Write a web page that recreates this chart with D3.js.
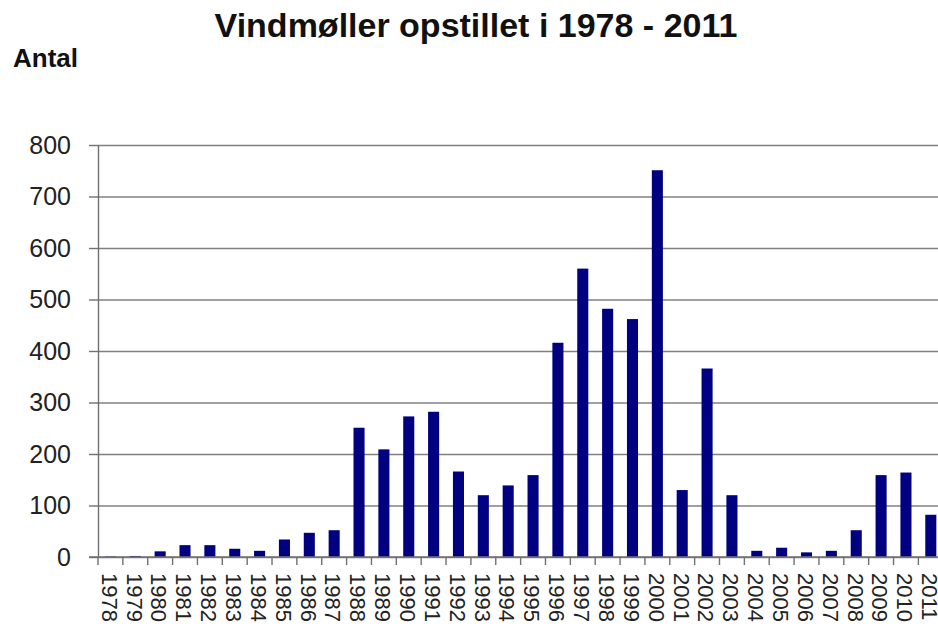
<!DOCTYPE html>
<html>
<head>
<meta charset="utf-8">
<script src="https://cdn.jsdelivr.net/npm/d3@7"></script>
<style>
  body { margin: 0; background: #fff; }
  svg { display: block; font-family: "Liberation Sans", Arial, sans-serif; }
</style>
</head>
<body>
<svg></svg>
<script>
const years = ["1978","1979","1980","1981","1982","1983","1984","1985","1986","1987",
               "1988","1989","1990","1991","1992","1993","1994","1995","1996","1997",
               "1998","1999","2000","2001","2002","2003","2004","2005","2006","2007",
               "2008","2009","2010","2011"];
const antal = [1, 2, 11, 23, 23, 16, 12, 34, 47, 52,
               251, 209, 273, 282, 166, 120, 139, 159, 416, 560,
               482, 462, 751, 130, 366, 120, 12, 18, 9, 12,
               52, 159, 164, 82];
const yTicks = [0, 100, 200, 300, 400, 500, 600, 700, 800];
const title = "Vindmøller opstillet i 1978 - 2011";
const yTitle = "Antal";

const data = years.map((d, i) => ({ year: d, value: antal[i] }));

const width = 938, height = 627;
const margin = { top: 145, left: 98, bottom: 557 };

const svg = d3.select("svg")
    .attr("width", width)
    .attr("height", height);

// the plot runs a little past the right edge, like the original
const xStep = d3.scaleBand()
    .domain(years)
    .range([margin.left, margin.left + years.length * 24.86])
    .padding(0);

const x = d3.scaleBand()
    .domain(years)
    .range(xStep.range())
    .paddingInner(0.555)
    .paddingOuter(0.2775);

const y = d3.scaleLinear()
    .domain([0, 800])
    .range([margin.bottom, margin.top]);

// gridlines
svg.append("g")
    .attr("class", "grid")
    .attr("transform", `translate(${margin.left},0)`)
    .call(d3.axisLeft(y).tickValues(yTicks).tickSize(-(width - margin.left)).tickFormat(""))
    .call(g => g.select(".domain").remove())
    .call(g => g.selectAll("line").attr("stroke", "#808080").attr("stroke-width", 1.4));

// y axis
svg.append("g")
    .attr("transform", `translate(${margin.left},0)`)
    .call(d3.axisLeft(y).tickValues(yTicks).tickSize(9).tickSizeOuter(0).tickPadding(18))
    .call(g => g.select(".domain").attr("stroke", "#707070").attr("stroke-width", 1.4))
    .call(g => g.selectAll("line").attr("stroke", "#707070").attr("stroke-width", 1.4))
    .call(g => g.selectAll("text")
        .style("font-size", "25px")
        .attr("fill", "#222"));

// bars
svg.selectAll(".bar")
    .data(data)
    .enter()
    .append("rect")
    .attr("class", "bar")
    .attr("x", d => x(d.year))
    .attr("y", d => y(d.value))
    .attr("width", x.bandwidth())
    .attr("height", d => y(0) - y(d.value))
    .attr("fill", "#000080");

// x axis line and category ticks at band boundaries
const xAxis = svg.append("g").attr("class", "x-axis");

xAxis.append("line")
    .attr("x1", margin.left - 9)
    .attr("x2", width)
    .attr("y1", y(0))
    .attr("y2", y(0))
    .attr("stroke", "#707070")
    .attr("stroke-width", 1.4);

xAxis.selectAll(".xtick")
    .data(years)
    .enter()
    .append("line")
    .attr("class", "xtick")
    .attr("x1", d => xStep(d))
    .attr("x2", d => xStep(d))
    .attr("y1", y(0))
    .attr("y2", y(0) + 8)
    .attr("stroke", "#707070")
    .attr("stroke-width", 1.4);

xAxis.selectAll(".xlabel")
    .data(years)
    .enter()
    .append("text")
    .attr("class", "xlabel")
    .attr("transform", d => `translate(${xStep(d) + xStep.bandwidth() / 2 - 1},${y(0) + 16}) rotate(90)`)
    .attr("dy", "0.35em")
    .style("text-anchor", "start")
    .style("font-size", "22px")
    .attr("fill", "#222")
    .text(d => d);

// titel
svg.append("text")
    .attr("x", 476)
    .attr("y", 37)
    .style("text-anchor", "middle")
    .style("font-size", "34px")
    .style("font-weight", "bold")
    .attr("fill", "#111")
    .text(title);

svg.append("text")
    .attr("x", 13)
    .attr("y", 67)
    .style("font-size", "26px")
    .style("font-weight", "bold")
    .attr("fill", "#111")
    .text(yTitle);
</script>
</body>
</html>
